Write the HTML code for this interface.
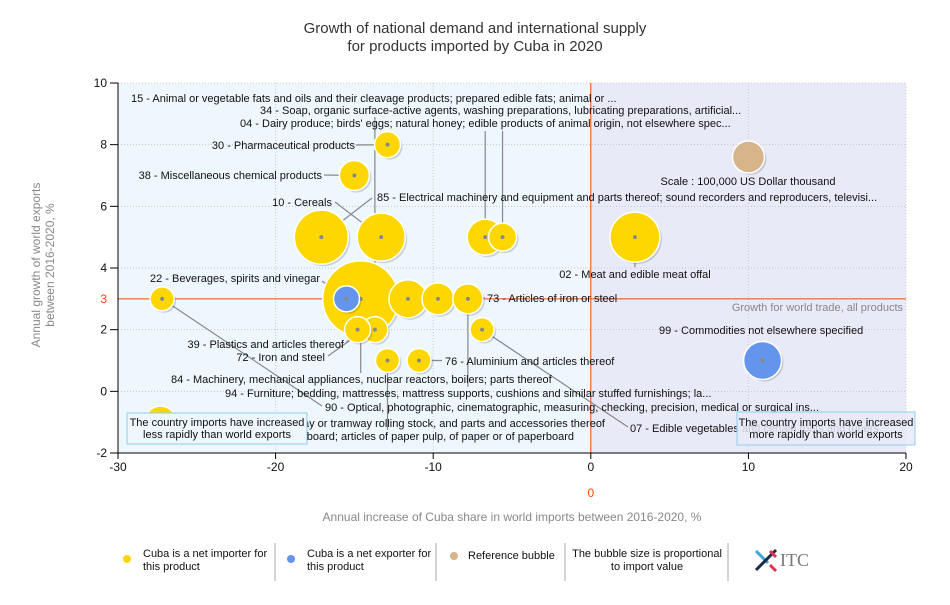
<!DOCTYPE html>
<html><head><meta charset="utf-8"><style>
body{margin:0;background:#fff;width:950px;height:600px;overflow:hidden;font-family:"Liberation Sans",sans-serif}
svg text{font-family:"Liberation Sans",sans-serif}
</style></head><body>
<svg id="chart" width="950" height="600" xmlns="http://www.w3.org/2000/svg">
<text x="475" y="33" text-anchor="middle" font-size="15" fill="#333">Growth of national demand and international supply</text>
<text x="475" y="51" text-anchor="middle" font-size="15" fill="#333">for products imported by Cuba in 2020</text>
<g id="plot"></g>
<g id="legend">
 <circle cx="127" cy="559" r="4" fill="#ffd700"/>
 <text x="143" y="557" font-size="11" fill="#111"><tspan x="143">Cuba is a net importer for</tspan><tspan x="143" dy="13">this product</tspan></text>
 <line x1="275" y1="543" x2="275" y2="581" stroke="#aaa"/>
 <circle cx="291" cy="559" r="4" fill="#6495ed"/>
 <text x="307" y="557" font-size="11" fill="#111"><tspan x="307">Cuba is a net exporter for</tspan><tspan x="307" dy="13">this product</tspan></text>
 <line x1="436" y1="543" x2="436" y2="581" stroke="#aaa"/>
 <circle cx="454" cy="556" r="4" fill="#d8b48a"/>
 <text x="468" y="559" font-size="11" fill="#111">Reference bubble</text>
 <line x1="565" y1="543" x2="565" y2="581" stroke="#aaa"/>
 <text x="647" y="557" font-size="11" fill="#111" text-anchor="middle"><tspan x="647">The bubble size is proportional</tspan><tspan x="647" dy="13">to import value</tspan></text>
 <line x1="728" y1="543" x2="728" y2="581" stroke="#aaa"/>
 <g>
  <line x1="756" y1="551" x2="768" y2="563" stroke="#3aa6dd" stroke-width="3"/>
  <line x1="770" y1="565" x2="776" y2="571" stroke="#e03050" stroke-width="3"/>
  <line x1="776" y1="550" x2="756" y2="570" stroke="#1a2a4a" stroke-width="3"/>
  <line x1="770" y1="551" x2="776" y2="557" stroke="#e03050" stroke-width="3"/>
  <text x="780" y="566" font-size="18" fill="#777" font-family="Liberation Serif,serif" style="font-family:'Liberation Serif',serif">ITC</text>
 </g>
</g>
</svg>
<script>
const xTicks=[-30,-20,-10,0,10,20];
const yTicks=[-2,0,2,4,6,8,10];
const codes=["15","34","04","30","38","10","85","22","84","39","72","76","73","94","90","86","07","02","99","48"];
const xVals=[-5.6,-13.7,-6.7,-12.9,-15.0,-13.3,-17.1,-15.5,-14.6,-14.8,-11.6,-10.9,-9.7,-7.8,-27.2,-12.9,-6.9,2.8,10.9,-27.3];
const yVals=[5,2,5,8,7,5,5,3,3,2,3,1,3,3,3,1,2,5,1,-1];
const sizes=[14,13,18,13,15,24,27,13,38,13,19,12,16,15,12,12,12,25,19,16];
const exporter=[0,0,0,0,0,0,0,1,0,0,0,0,0,0,0,0,0,0,1,0];
const worldGrowth=3;
const refX=10, refY=7.6, refR=16;

const X0=118,X1=906,Y0=453,Y1=83,xmin=-30,xmax=20,ymin=-2,ymax=10;
const sx=v=>X0+(v-xmin)/(xmax-xmin)*(X1-X0);
const sy=v=>Y0-(v-ymin)/(ymax-ymin)*(Y0-Y1);
const NS="http://www.w3.org/2000/svg";
const g=document.getElementById('plot');
function mk(t,a,p){const e=document.createElementNS(NS,t);for(const k in a)e.setAttribute(k,a[k]);(p||g).appendChild(e);return e;}

let r=mk('rect',{x:X0,y:Y1,width:sx(0)-X0,height:Y0-Y1,fill:'#eef6fe'});


r=mk('rect',{x:sx(0),y:Y1,width:X1-sx(0),height:Y0-Y1,fill:'#e8eaf8'});


mk('rect',{x:X0,y:Y1,width:X1-X0,height:Y0-Y1,fill:'none',stroke:'#ccc','stroke-dasharray':'1,2'});
xTicks.forEach(v=>{
 if(v>xmin&&v<xmax) mk('line',{x1:sx(v),y1:Y1,x2:sx(v),y2:Y0,stroke:'#c8c8c8','stroke-dasharray':'1,2'});
 mk('line',{x1:sx(v),y1:Y0,x2:sx(v),y2:Y0+6,stroke:'#000'});
 const t=mk('text',{x:sx(v),y:Y0+18,'text-anchor':'middle','font-size':12,fill:'#111'});t.textContent=v;
 
 
});
yTicks.forEach(v=>{
 if(v>ymin&&v<ymax) mk('line',{x1:X0,y1:sy(v),x2:X1,y2:sy(v),stroke:'#c8c8c8','stroke-dasharray':'1,2'});
 mk('line',{x1:X0-8,y1:sy(v),x2:X0,y2:sy(v),stroke:'#000'});
 const t=mk('text',{x:X0-11,y:sy(v)+4,'text-anchor':'end','font-size':12,fill:'#111'});t.textContent=v;
 
 
});
mk('line',{x1:X0,y1:sy(worldGrowth),x2:X1,y2:sy(worldGrowth),stroke:'#ff4500'});
mk('line',{x1:sx(0),y1:Y1,x2:sx(0),y2:Y0,stroke:'#ff4500'});
let t=mk('text',{x:X0-11,y:sy(worldGrowth)+4,'text-anchor':'end','font-size':12,fill:'#ff4500'});t.textContent=worldGrowth;


t=mk('text',{x:sx(0),y:497,'text-anchor':'middle','font-size':12,fill:'#ff4500'});t.textContent='0';


mk('line',{x1:X0,y1:Y1,x2:X0,y2:Y0,stroke:'#000'});
mk('line',{x1:X0,y1:Y0,x2:X1,y2:Y0,stroke:'#000'});
t=mk('text',{x:512,y:521,'text-anchor':'middle','font-size':12,fill:'#888'});t.textContent='Annual increase of Cuba share in world imports between 2016-2020, %';


t=mk('text',{x:0,y:0,'text-anchor':'middle','font-size':12,fill:'#888',transform:'translate(40,265) rotate(-90)'});
t.innerHTML='<tspan x="0" dy="0">Annual growth of world exports</tspan><tspan x="0" dy="14">between 2016-2020, %</tspan>';



// labels: [code, text, anchor, tx, ty, lineEndX, lineEndY]
const labels=[
["15","15 - Animal or vegetable fats and oils and their cleavage products; prepared edible fats; animal or ...","start",131,102,null,131],
["34","34 - Soap, organic surface-active agents, washing preparations, lubricating preparations, artificial...","start",260,114,null,117],
["04","04 - Dairy produce; birds' eggs; natural honey; edible products of animal origin, not elsewhere spec...","start",240,127,null,131],
["30","30 - Pharmaceutical products","end",355,149,356,145],
["38","38 - Miscellaneous chemical products","end",322,179,324,175],
["10","10 - Cereals","end",332,206,335,202],
["85","85 - Electrical machinery and equipment and parts thereof; sound recorders and reproducers, televisi...","start",377,201,372,198],
["22","22 - Beverages, spirits and vinegar","end",320,282,322,281],
["73","73 - Articles of iron or steel","start",487,302,485,298],
["02","02 - Meat and edible meat offal","middle",635,278,null,267],
["99","99 - Commodities not elsewhere specified","start",659,334,null,null],
["39","39 - Plastics and articles thereof","end",344,348,346,343],
["72","72 - Iron and steel","end",325,361,328,356],
["76","76 - Aluminium and articles thereof","start",445,365,442,null],
["84","84 - Machinery, mechanical appliances, nuclear reactors, boilers; parts thereof","start",171,383,null,373],
["94","94 - Furniture; bedding, mattresses, mattress supports, cushions and similar stuffed furnishings; la...","start",225,397,null,387],
["90","90 - Optical, photographic, cinematographic, measuring, checking, precision, medical or surgical ins...","start",325,411,322,406],
["86","87 - Vehicles other than railway or tramway rolling stock, and parts and accessories thereof","end",605,427,null,430],
["48","48 - Paper and paperboard; articles of paper pulp, of paper or of paperboard","end",574,440,null,null],
["07","07 - Edible vegetables and certain roots and tubers","start",630,432,628,427]
];
const idx=c=>codes.indexOf(c);
// leader lines
labels.forEach(L=>{const i=idx(L[0]);if(i<0)return;if(L[5]===null&&L[6]===null)return;
 const cx=sx(xVals[i]),cy=sy(yVals[i]);
 const ex=L[5]===null?cx:L[5],ey=L[6]===null?cy:L[6];
 mk('line',{x1:cx,y1:cy,x2:ex,y2:ey,stroke:'#888','stroke-width':1.2});});
// bubbles (largest first)
const order=codes.map((c,i)=>i).sort((a,b)=>sizes[b]-sizes[a]);
order.forEach(i=>{
 const cx=sx(xVals[i]),cy=sy(yVals[i]);
 mk('circle',{cx:cx+2,cy:cy+2,r:sizes[i],fill:'rgba(0,0,0,0.15)'});
 const c=mk('circle',{cx:cx,cy:cy,r:sizes[i],fill:exporter[i]?'#6495ed':'#ffd700',stroke:'#fff','stroke-width':1.5});
 
 
 mk('circle',{cx:cx,cy:cy,r:2,fill:'#888'});
});
mk('circle',{cx:sx(refX)+2,cy:sy(refY)+2,r:refR,fill:'rgba(0,0,0,0.15)'});
let rb=mk('circle',{cx:sx(refX),cy:sy(refY),r:refR,fill:'#d8b48a',stroke:'#fff','stroke-width':1.5});


t=mk('text',{x:748,y:185,'text-anchor':'middle','font-size':11,fill:'#111'});t.textContent='Scale : 100,000 US Dollar thousand';


labels.forEach(L=>{
 const e=mk('text',{x:L[3],y:L[4],'text-anchor':L[2],'font-size':11,fill:'#111'});e.textContent=L[1];
 
 
});
t=mk('text',{x:903,y:311,'text-anchor':'end','font-size':11,fill:'#888'});t.textContent='Growth for world trade, all products';


let b=mk('rect',{x:127,y:413,width:180,height:31,fill:'#eef6fe',stroke:'#8fcdf0'});


t=mk('text',{x:217,y:426,'text-anchor':'middle','font-size':11,fill:'#111'});t.innerHTML='<tspan x="217">The country imports have increased</tspan><tspan x="217" dy="12">less rapidly than world exports</tspan>';


b=mk('rect',{x:737,y:412,width:178,height:33,fill:'rgba(232,234,248,0.85)',stroke:'#8fcdf0'});


t=mk('text',{x:826,y:426,'text-anchor':'middle','font-size':11,fill:'#111'});t.innerHTML='<tspan x="826">The country imports have increased</tspan><tspan x="826" dy="12">more rapidly than world exports</tspan>';


</script>
</body></html>
